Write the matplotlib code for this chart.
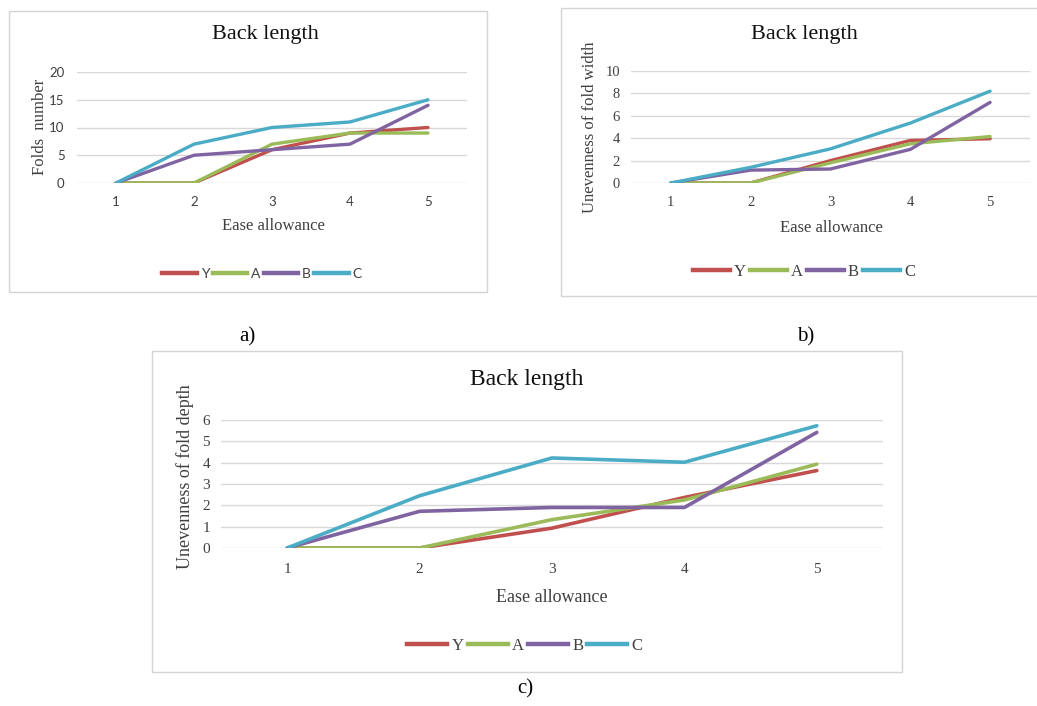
import matplotlib
matplotlib.use("Agg")
import matplotlib.pyplot as plt
from matplotlib.patches import Rectangle
from matplotlib.lines import Line2D

W, H = 1037, 706

# ---- data ----
ease = [1, 2, 3, 4, 5]
series_names = ["Y", "A", "B", "C"]

folds_Y = [0, 0, 6, 9, 10]
folds_A = [0, 0, 7, 9, 9]
folds_B = [0, 5, 6, 7, 14]
folds_C = [0, 7, 10, 11, 15]

width_Y = [0, 0, 2.0, 3.8, 3.95]
width_A = [0, 0, 1.8, 3.5, 4.15]
width_B = [0, 1.15, 1.25, 3.0, 7.2]
width_C = [0, 1.4, 3.05, 5.35, 8.2]

depth_Y = [0, 0, 0.93, 2.37, 3.63]
depth_A = [0, 0, 1.33, 2.25, 3.93]
depth_B = [0, 1.72, 1.9, 1.9, 5.42]
depth_C = [0, 2.45, 4.22, 4.02, 5.73]

colors = ["#C0504D", "#9BBB59", "#8064A2", "#4BACC6"]
grid_color = "#D9D9D9"
SERIF = "Liberation Serif"
SANS = "Lato"

fig = plt.figure(figsize=(W / 100, H / 100), dpi=100)


def fx(x):
    return x / W


def fy(y):
    return 1 - y / H


def frame(x0, y0, x1, y1):
    fig.add_artist(Rectangle((fx(x0), fy(y1)), fx(x1) - fx(x0), fy(y0) - fy(y1),
                             transform=fig.transFigure, fill=False,
                             edgecolor="#D4D4D4", linewidth=1.0))


def make_axes(x0, y0, x1, y1, ymax, ystep, tickfont, ticksize, ypad, xpad):
    ax = fig.add_axes([fx(x0), fy(y1), fx(x1) - fx(x0), fy(y0) - fy(y1)])
    ax.set_xlim(0.5, 5.5)
    ax.set_ylim(0, ymax)
    ax.set_xticks(ease)
    yt = [i * ystep for i in range(int(round(ymax / ystep)) + 1)]
    ax.set_yticks(yt)
    ax.set_yticklabels([str(v) for v in yt])
    for s in ax.spines.values():
        s.set_visible(False)
    ax.set_facecolor("none")
    ax.grid(axis="y", color=grid_color, linewidth=1.0)
    ax.set_axisbelow(True)
    ax.tick_params(axis="both", length=0, labelcolor="#404040")
    ax.tick_params(axis="y", pad=ypad)
    ax.tick_params(axis="x", pad=xpad)
    for lab in ax.get_xticklabels() + ax.get_yticklabels():
        lab.set_fontfamily(tickfont)
        lab.set_fontsize(ticksize)
    return ax


def legend(cx, cy, font, size, hl):
    handles = [Line2D([], [], color=c, linewidth=3.2) for c in colors]
    fig.legend(handles, series_names, loc="center",
               bbox_to_anchor=(fx(cx), fy(cy)), bbox_transform=fig.transFigure,
               ncol=4, frameon=False, handlelength=hl, handletextpad=0.25,
               columnspacing=0.25, prop={"family": font, "size": size},
               labelcolor="#404040")


# ---------------- panel a ----------------
frame(9, 11, 487, 292)
axa = make_axes(77, 72, 467, 183, 20, 5, SANS, 9.5, 9, 9)
for ys, c in zip([folds_Y, folds_A, folds_B, folds_C], colors):
    axa.plot(ease, ys, color=c, linewidth=2.4, solid_capstyle="round")
fig.text(fx(265), fy(34), "Back length", ha="center", va="center",
         family=SERIF, fontsize=16, color="#111111")
fig.text(fx(40), fy(127), "Folds  number", ha="center", va="center",
         rotation=90, family=SERIF, fontsize=12, color="#404040")
fig.text(fx(273), fy(226), "Ease allowance", ha="center", va="center",
         family=SERIF, fontsize=12, color="#404040")
legend(262, 274, SANS, 10, 2.5)

# ---------------- panel b ----------------
frame(561, 8, 1045, 296)
axb = make_axes(631, 71, 1030, 183, 10, 2, SERIF, 10.5, 8, 9)
for ys, c in zip([width_Y, width_A, width_B, width_C], colors):
    axb.plot(ease, ys, color=c, linewidth=2.4, solid_capstyle="round")
fig.text(fx(804), fy(35), "Back length", ha="center", va="center",
         family=SERIF, fontsize=16, color="#111111")
fig.text(fx(590), fy(127), "Unevenness of fold width", ha="center", va="center",
         rotation=90, family=SERIF, fontsize=12, color="#404040")
fig.text(fx(831), fy(228), "Ease allowance", ha="center", va="center",
         family=SERIF, fontsize=12, color="#404040")
legend(804, 272, SERIF, 12, 2.2)

# ---------------- panel c ----------------
frame(152, 351, 902, 672)
axc = make_axes(221, 420, 883, 548, 6, 1, SERIF, 11, 8, 11)
for ys, c in zip([depth_Y, depth_A, depth_B, depth_C], colors):
    axc.plot(ease, ys, color=c, linewidth=2.6, solid_capstyle="round")
fig.text(fx(527), fy(380), "Back length", ha="center", va="center",
         family=SERIF, fontsize=17, color="#111111")
fig.text(fx(185), fy(477), "Unevenness of fold depth", ha="center", va="center",
         rotation=90, family=SERIF, fontsize=13, color="#404040")
fig.text(fx(552), fy(598), "Ease allowance", ha="center", va="center",
         family=SERIF, fontsize=13, color="#404040")
legend(525, 646, SERIF, 12, 2.4)

# panel captions
fig.text(fx(247), fy(337), "a)", ha="center", va="center", family=SERIF, fontsize=15)
fig.text(fx(806), fy(337), "b)", ha="center", va="center", family=SERIF, fontsize=15)
fig.text(fx(525), fy(689), "c)", ha="center", va="center", family=SERIF, fontsize=15)

fig.savefig("out.png", dpi=100)
